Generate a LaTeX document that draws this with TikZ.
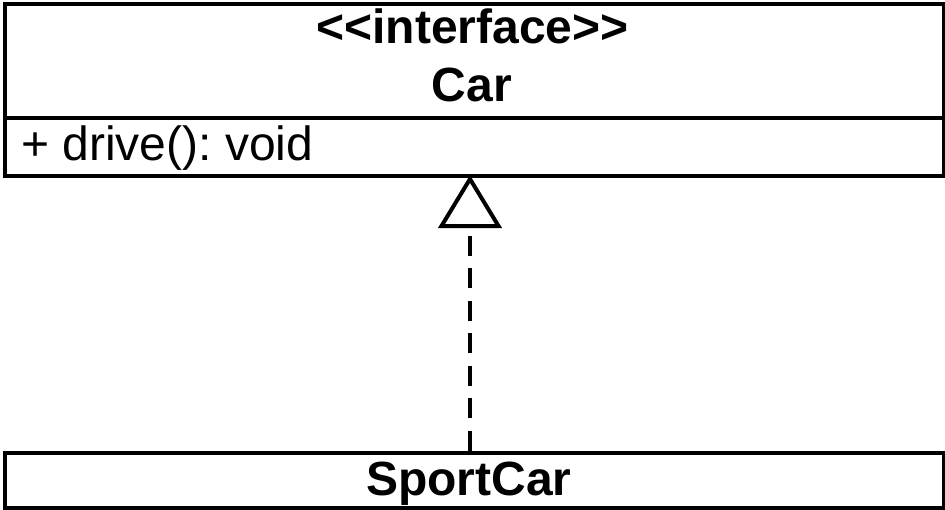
\documentclass[tikz,border=0pt]{standalone}
\usepackage{fontspec}
\setmainfont{Liberation Sans}
\frenchspacing
\begin{document}
\begin{tikzpicture}[x=1pt,y=-1pt,
  umlbox/.style={draw=black,line width=4pt,minimum width=938.5pt,inner sep=0pt,anchor=north west},
  umltext/.style={inner sep=0pt,font=\fontsize{48}{58}\selectfont},
  umlbold/.style={umltext,font=\fontsize{48}{58}\selectfont\bfseries},
  realize/.style={line width=4pt,dash pattern=on 20pt off 12.5pt},
  openhead/.style={line width=4pt,line join=miter,fill=white}]
\useasboundingbox (0,0) rectangle (945,509);
\node[umlbox,minimum height=114pt] (cartitle) at (3,2) {};
\node[umlbox,minimum height=58pt] (carops) at (3,116) {};
\node[umlbox,minimum height=55pt] (sport) at (3,450.5) {};
\node[umlbold,anchor=base] (stereo) at (472.5,43) {<\kern0pt<interface>\kern0pt>};
\node[umlbold,anchor=base] (carname) at (472,101.7) {Car};
\node[umltext,anchor=base west] (op) at (21,160.7) {+ drive(): void};
\node[umlbold,anchor=base] (sportname) at (469,495) {SportCar};
\coordinate (tip) at (470,179);
\coordinate (tipbase) at (470,226);
\coordinate (bl) at (441.5,226);
\coordinate (br) at (498.5,226);
\draw[realize] (sport.north -| tip) -- (tipbase);
\draw[openhead] (tip) -- (bl) -- (br) -- cycle;
\end{tikzpicture}
\end{document}
